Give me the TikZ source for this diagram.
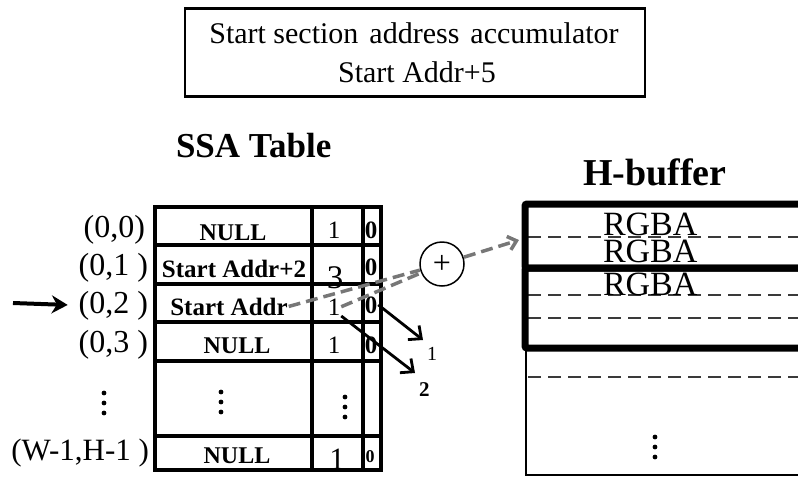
\documentclass[tikz,border=0pt]{standalone}
\usepackage{fontspec}
\setmainfont{Liberation Serif}
\usetikzlibrary{arrows.meta,positioning}
\definecolor{linkgray}{HTML}{777777}
\definecolor{rulegray}{HTML}{3A3A3A}
\newcommand{\fsz}[1]{\fontsize{#1}{#1}\selectfont}

\begin{document}
\begin{tikzpicture}[x=1pt,y=-1pt,>=Stealth,
  every node/.style={inner sep=0pt,outer sep=1pt},
  cellline/.style={line width=4.5pt},
  addrtext/.style={font=\fsz{24}\bfseries,anchor=base},
  cnttext/.style={font=\fsz{25},anchor=base},
  flagtext/.style={font=\fsz{25}\bfseries,anchor=base},
  coordtext/.style={font=\fsz{32},anchor=base east},
  rgbatext/.style={font=\fsz{34},anchor=base west},
  hdash/.style={rulegray,line width=1.6pt,dash pattern=on 13pt off 7pt},
  linkarrow/.style={linkgray,line width=3.5pt,dash pattern=on 12pt off 6pt},
  ptrarrow/.style={line width=2.8pt,-{Straight Barb[length=10pt,width=18pt,line width=2.8pt]}},
  vdots/.pic={\foreach \k in {-10,0,10} \fill (0,\k) circle (2.4pt);}]
  \useasboundingbox (0,0) rectangle (798,477);
  \clip (0,0) rectangle (798,477);

  % accumulator
  \node[draw,line width=2.5pt,minimum width=460pt,minimum height=88pt] (accum) at (415,52.5) {};
  \node[font=\fsz{30},anchor=base] (accumtop) at (414,43) {Start section\hspace{11pt}address\hspace{11pt}accumulator};
  \node[font=\fsz{30},anchor=base] (accumval) at (417,82) {Start Addr+5};

  % titles
  \node[font=\fsz{35}\bfseries,anchor=base west] (ssatitle) at (175,157) {SSA Table};
  \node[font=\fsz{38}\bfseries,anchor=base west] (hbuftitle) at (582,185) {H-buffer};

  % SSA table
  \foreach \ya/\yb in {207/245,245/284,284/322,322/361,361/436,436/470} {
    \draw[cellline] (155,\ya) rectangle (312,\yb);
    \draw[cellline] (312,\ya) rectangle (363,\yb);
    \draw[cellline] (363,\ya) rectangle (381,\yb);
  }
  \node[addrtext] (a0) at (233,240) {NULL};
  \node[addrtext,font=\fsz{25}\bfseries] (a1) at (234,277) {Start Addr+2};
  \node[addrtext,font=\fsz{25}\bfseries] (a2) at (229,315) {Start Addr};
  \node[addrtext] (a3) at (237,353) {NULL};
  \node[addrtext] (a5) at (237,463) {NULL};
  \node[cnttext] (c0) at (334,238) {1};
  \node[cnttext,font=\fsz{33}] (c1) at (335,288) {3};
  \node[cnttext] (c2) at (334,315) {1};
  \node[cnttext] (c3) at (334,353) {1};
  \node[cnttext,font=\fsz{31}] (c5) at (337,469) {1};
  \node[flagtext] (f0) at (371,238) {0};
  \node[flagtext] (f1) at (371,275) {0};
  \node[flagtext] (f2) at (371,313) {0};
  \node[flagtext] (f3) at (371,353) {0};
  \node[flagtext,font=\fsz{18}\bfseries] (f5) at (370,462) {0};
  \pic at (221,402) {vdots};
  \pic at (345,407) {vdots};

  % row coordinates
  \node[coordtext] (l0) at (146,237) {(0,0)};
  \node[coordtext] (l1) at (149,275) {(0,1 )};
  \node[coordtext] (l2) at (149,313) {(0,2 )};
  \node[coordtext] (l3) at (149,352) {(0,3 )};
  \node[coordtext,font=\fsz{31}] (l5) at (150,460) {(W-1,H-1 )};
  \pic at (104,403) {vdots};
  \coordinate (arrowtail) at (13,303);
  \draw[line width=4pt,-{Stealth[length=16pt,width=18pt]},shorten >=10pt] (arrowtail) -- (l2.west);

  % H-buffer
  \draw[line width=2.5pt] (900,475) -| (526,204);
  \foreach \yy in {237,295,318,377}
    \draw[hdash] (528,\yy) -- (800,\yy);
  \draw[line width=7pt,rounded corners=2pt] (525,204) rectangle (900,268);
  \draw[line width=7pt,rounded corners=2pt] (525,268) rectangle (900,348);
  \node[rgbatext] (rgba0) at (602,235) {RGBA};
  \node[rgbatext] (rgba1) at (602,262) {RGBA};
  \node[rgbatext] (rgba2) at (602,295) {RGBA};
  \pic at (655,447) {vdots};

  % adder and links
  \node[draw,circle,line width=1.5pt,minimum size=44pt,font=\fsz{32}] (adder) at (442,264) {+};
  \coordinate (hbufin) at (519,240);
  \draw[linkarrow] (a2.east) -- (adder);
  \draw[linkarrow] (c2.east) -- (adder);
  \draw[linkarrow,-{Straight Barb[length=8pt,width=14pt,line width=3.5pt]}] (adder) -- (hbufin);

  % offsets
  \node[font=\fsz{20},anchor=base west] (n1) at (426,360) {1};
  \node[font=\fsz{21}\bfseries,anchor=base west] (n2) at (418,396) {2};
  \coordinate (tip1) at (423,340);
  \coordinate (tip2) at (415,373);
  \draw[ptrarrow] (f2.east) -- (tip1);
  \draw[ptrarrow] (c2.south east) -- (tip2);
\end{tikzpicture}
\end{document}
